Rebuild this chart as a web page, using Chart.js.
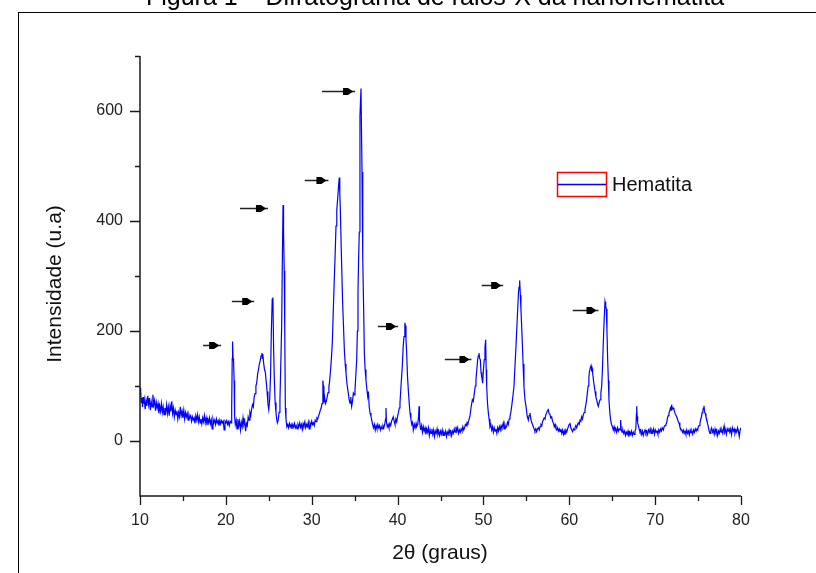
<!DOCTYPE html>
<html>
<head>
<meta charset="utf-8">
<title>Difratograma de raios-X da nanohematita</title>
<script src="https://cdn.jsdelivr.net/npm/chart.js@4/dist/chart.umd.min.js"></script>
<style>
  html, body { margin: 0; padding: 0; background: #fff; }
  canvas { display: block; }
</style>
</head>
<body>
<canvas id="xrd" width="816" height="573"></canvas>
<script>
const trecho10a20 = [
  [10.0,97],[10.05,84],[10.1,92],[10.15,70],[10.2,78],[10.3,62],[10.35,80],[10.45,68],[10.5,75],[10.6,58],
  [10.7,74],[10.8,64],[10.9,82],[11.0,66],[11.1,78],[11.2,56],[11.3,72],[11.4,62],[11.5,84],[11.6,66],
  [11.7,74],[11.8,55],[11.9,70],[12.0,60],[12.1,68],[12.2,50],[12.3,64],[12.4,54],[12.5,68],[12.6,52],
  [12.7,62],[12.8,48],[12.9,60],[13.0,52],[13.1,66],[13.2,50],[13.3,62],[13.4,46],[13.5,64],[13.6,54],
  [13.7,72],[13.8,50],[13.9,60],[14.0,44],[14.1,56],[14.2,48],[14.3,55],[14.4,40],[14.5,52],[14.6,44],
  [14.7,62],[14.8,46],[14.9,54],[15.0,42],[15.1,56],[15.2,40],[15.3,52],[15.4,44],[15.5,50],[15.6,38],
  [15.7,48],[15.8,42],[15.9,46],[16.0,36],[16.1,44],[16.2,38],[16.3,42],[16.4,32],[16.5,46],[16.6,38],
  [16.7,48],[16.8,35],[16.9,44],[17.0,33],[17.1,40],[17.2,31],[17.3,42],[17.4,35],[17.5,46],[17.6,33],
  [17.7,42],[17.8,29],[17.9,40],[18.0,33],[18.1,42],[18.2,31],[18.3,38],[18.4,22],[18.5,40],[18.6,33],
  [18.7,38],[18.8,30],[18.9,40],[19.0,33],[19.1,37],[19.2,28],[19.3,38],[19.4,31],[19.5,37],[19.6,33],
  [19.7,36],[19.8,20],[19.9,36],[20.0,33],[20.1,37],[20.2,30],[20.3,35],[20.4,28],[20.5,36],[20.6,33]
];
const trecho20a27 = [
  [20.68,60],[20.74,150],[20.78,181],[20.84,150],[20.9,145],[20.96,110],[21.02,45],[21.1,30],[21.2,38],[21.3,22],
  [21.4,40],[21.5,28],[21.6,36],[21.7,20],[21.8,34],[21.9,26],[22.0,42],[22.1,30],[22.2,36],[22.3,18],
  [22.4,32],[22.5,28],[22.6,44],[22.7,38],[22.8,52],[22.9,46],[23.0,58],[23.1,66],[23.2,62],[23.3,80],
  [23.4,86],[23.5,100],[23.6,106],[23.7,122],[23.8,130],[23.9,140],[24.0,146],[24.1,155],[24.2,160],[24.25,150],
  [24.3,158],[24.4,142],[24.5,130],[24.6,125],[24.7,108],[24.8,90],[24.9,68],[25.0,57],[25.1,75],[25.2,117],
  [25.3,200],[25.4,258],[25.48,261],[25.56,170],[25.64,115],[25.74,70],[25.84,51],[25.92,40],[26.0,33],[26.1,38],
  [26.2,52],[26.3,75],[26.4,140],[26.5,209],[26.58,330],[26.66,429],[26.72,380],[26.8,309],[26.86,200],[26.93,60],
  [27.0,40],[27.1,26]
];
const trecho27a37 = [
  [27.2,30],[27.3,24],[27.4,32],[27.5,26],[27.6,30],[27.7,22],[27.8,30],[27.9,25],[28.0,32],[28.1,24],
  [28.2,28],[28.3,22],[28.4,30],[28.5,26],[28.6,33],[28.7,25],[28.8,30],[28.9,21],[29.0,32],[29.1,28],
  [29.2,35],[29.3,24],[29.4,30],[29.5,26],[29.6,34],[29.7,22],[29.8,33],[29.9,28],[30.0,36],[30.1,30],
  [30.2,33],[30.3,28],[30.4,38],[30.5,35],[30.6,42],[30.7,40],[30.8,46],[30.9,50],[31.0,56],[31.1,60],
  [31.2,68],[31.3,110],[31.36,100],[31.42,70],[31.5,80],[31.6,68],[31.7,72],[31.8,80],[31.9,88],[32.0,98],
  [32.1,111],[32.2,130],[32.3,152],[32.4,179],[32.5,230],[32.63,294],[32.73,340],[32.83,391],[32.92,420],[33.02,440],
  [33.12,462],[33.21,479],[33.27,450],[33.33,422],[33.45,343],[33.6,252],[33.7,210],[33.8,166],[33.9,140],[33.99,124],
  [34.1,105],[34.26,87],[34.36,75],[34.46,69],[34.55,80],[34.65,63],[34.75,72],[34.85,87],[34.95,84],[35.04,93],
  [35.14,120],[35.24,148],[35.32,200],[35.39,270],[35.46,330],[35.54,380],[35.62,592],[35.74,641],[35.8,560],[35.86,489],
  [35.92,420],[35.97,331],[36.05,240],[36.13,160],[36.22,130],[36.32,111],[36.42,95],[36.52,81],[36.6,90],[36.7,62],
  [36.79,51],[36.9,45],[36.99,38]
];
const trecho37a45 = [
  [37.1,30],[37.2,24],[37.3,30],[37.4,20],[37.5,28],[37.6,22],[37.7,30],[37.8,24],[37.9,28],[38.0,20],
  [38.1,26],[38.2,22],[38.3,28],[38.4,24],[38.5,30],[38.6,40],[38.65,60],[38.7,35],[38.8,26],[38.9,30],
  [39.0,24],[39.1,32],[39.2,28],[39.3,36],[39.4,40],[39.5,44],[39.6,36],[39.7,30],[39.8,40],[39.9,35],
  [40.0,45],[40.1,52],[40.2,60],[40.28,69],[40.4,100],[40.55,136],[40.65,170],[40.75,190],[40.85,215],[40.9,210],
  [40.98,185],[41.06,160],[41.15,120],[41.25,93],[41.35,70],[41.45,51],[41.55,40],[41.65,30],[41.75,34],[41.83,20],
  [41.95,30],[42.05,24],[42.15,32],[42.22,26],[42.35,30],[42.45,45],[42.5,63],[42.55,40],[42.65,24],[42.7,20],
  [42.8,28],[42.9,16],[43.0,26],[43.1,18],[43.2,24],[43.3,12],[43.4,22],[43.5,16],[43.6,24],[43.7,10],
  [43.8,20],[43.9,14],[44.0,22],[44.1,12],[44.2,20],[44.3,8],[44.4,18],[44.5,14],[44.6,22],[44.7,12],
  [44.8,18],[44.9,10]
];
const trecho45a58 = [
  [45.0,18],[45.1,12],[45.2,20],[45.3,10],[45.4,16],[45.5,12],[45.6,18],[45.7,8],[45.8,16],[45.9,12],
  [46.0,20],[46.1,14],[46.2,18],[46.3,10],[46.4,18],[46.5,14],[46.6,22],[46.7,16],[46.8,26],[46.9,18],
  [47.0,24],[47.1,14],[47.2,20],[47.3,16],[47.4,22],[47.5,18],[47.6,26],[47.7,20],[47.8,24],[47.9,30],
  [48.0,28],[48.1,34],[48.2,32],[48.3,38],[48.43,45],[48.55,60],[48.71,75],[48.82,72],[48.94,87],[49.05,100],
  [49.13,111],[49.23,130],[49.33,148],[49.4,155],[49.48,160],[49.56,150],[49.64,148],[49.72,125],[49.8,117],[49.91,105],
  [50.0,130],[50.1,148],[50.18,170],[50.26,184],[50.32,130],[50.38,99],[50.47,70],[50.57,51],[50.66,40],[50.76,26],
  [50.86,30],[50.96,20],[51.06,26],[51.16,16],[51.26,24],[51.36,18],[51.46,22],[51.56,14],[51.66,24],[51.76,18],
  [51.86,26],[51.96,20],[52.06,28],[52.16,24],[52.31,33],[52.4,22],[52.5,30],[52.6,24],[52.7,26],[52.8,34],
  [52.9,30],[53.0,40],[53.09,44],[53.19,52],[53.29,63],[53.42,80],[53.56,99],[53.67,135],[53.79,172],[53.89,205],
  [53.99,239],[54.08,270],[54.15,280],[54.22,292],[54.3,265],[54.37,239],[54.45,210],[54.53,178],[54.62,140],[54.72,99],
  [54.84,75],[54.96,63],[55.1,45],[55.23,38],[55.32,46],[55.42,51],[55.52,40],[55.62,34],[55.72,30],[55.81,26],
  [55.9,22],[56.0,18],[56.1,22],[56.2,17],[56.3,22],[56.4,24],[56.5,20],[56.59,26],[56.7,30],[56.8,28],
  [56.9,36],[56.97,38],[57.07,42],[57.17,40],[57.27,48],[57.36,51],[57.45,55],[57.55,57],[57.65,50],[57.75,48],
  [57.85,42],[57.95,44],[58.05,36],[58.14,33]
];
const trecho58a66 = [
  [58.25,26],[58.35,30],[58.45,22],[58.53,20],[58.63,24],[58.73,18],[58.83,22],[58.92,17],[59.02,22],[59.12,14],
  [59.22,20],[59.32,12],[59.42,18],[59.5,11],[59.6,20],[59.7,16],[59.8,22],[59.89,26],[59.98,30],[60.08,33],
  [60.18,24],[60.28,20],[60.39,17],[60.48,22],[60.57,20],[60.66,24],[60.76,28],[60.86,24],[60.96,30],[61.05,33],
  [61.15,30],[61.25,38],[61.35,36],[61.44,44],[61.54,40],[61.64,48],[61.74,52],[61.83,57],[61.93,66],[62.02,75],
  [62.1,87],[62.2,100],[62.28,115],[62.33,124],[62.43,132],[62.53,137],[62.6,130],[62.66,132],[62.72,124],[62.82,110],
  [62.92,99],[63.0,90],[63.1,80],[63.19,75],[63.28,68],[63.38,63],[63.48,70],[63.58,75],[63.68,88],[63.77,99],
  [63.86,130],[63.96,178],[64.06,220],[64.16,253],[64.24,245],[64.31,240],[64.39,200],[64.47,148],[64.55,110],[64.62,75],
  [64.72,52],[64.82,38],[64.92,30],[65.02,26],[65.12,20],[65.22,26],[65.32,18],[65.42,22],[65.52,16],[65.62,24],
  [65.72,18],[65.82,22],[65.92,20],[65.98,38],[66.04,22],[66.14,16]
];
const trecho66a80 = [
  [66.24,20],[66.34,14],[66.44,18],[66.54,10],[66.64,16],[66.74,12],[66.84,18],[66.94,8],[67.04,16],[67.14,12],
  [67.24,18],[67.34,10],[67.45,16],[67.55,12],[67.65,18],[67.75,22],[67.82,50],[67.85,63],[67.9,45],[67.96,33],
  [68.05,28],[68.14,22],[68.23,17],[68.33,20],[68.43,12],[68.53,18],[68.62,10],[68.72,16],[68.82,20],[68.92,14],
  [69.02,18],[69.12,12],[69.22,20],[69.32,16],[69.42,22],[69.52,14],[69.62,20],[69.72,16],[69.82,22],[69.92,12],
  [70.02,20],[70.12,16],[70.22,18],[70.32,12],[70.42,20],[70.52,16],[70.62,22],[70.72,18],[70.82,24],[70.95,20],
  [71.05,26],[71.15,28],[71.25,30],[71.34,33],[71.44,42],[71.52,46],[71.61,51],[71.7,55],[71.78,60],[71.86,56],
  [71.92,66],[72.0,58],[72.1,60],[72.19,57],[72.28,52],[72.38,48],[72.5,44],[72.6,40],[72.7,35],[72.78,33],
  [72.88,26],[72.98,22],[73.09,20],[73.19,16],[73.28,20],[73.38,14],[73.48,18],[73.58,12],[73.68,20],[73.78,14],
  [73.88,18],[73.98,11],[74.08,20],[74.18,15],[74.28,18],[74.38,12],[74.48,20],[74.58,16],[74.68,22],[74.78,18],
  [74.88,22],[74.96,20],[75.03,26],[75.12,28],[75.22,33],[75.32,40],[75.4,44],[75.46,51],[75.55,55],[75.62,60],
  [75.69,64],[75.76,52],[75.84,50],[75.92,44],[76.0,40],[76.1,32],[76.19,26],[76.29,18],[76.39,14],[76.48,20],
  [76.58,24],[76.68,16],[76.78,20],[76.88,12],[76.98,22],[77.08,16],[77.18,20],[77.28,10],[77.38,18],[77.48,14],
  [77.58,22],[77.68,16],[77.78,20],[77.88,14],[77.96,22],[78.03,27],[78.1,16],[78.2,20],[78.3,12],[78.4,22],
  [78.5,18],[78.6,24],[78.7,16],[78.8,22],[78.9,12],[79.0,24],[79.1,18],[79.2,22],[79.3,14],[79.4,20],
  [79.5,16],[79.6,24],[79.7,18],[79.8,8],[79.9,20],[80.0,24]
];

// setas que marcam os picos: [2θ inicio, 2θ ponta, intensidade]
const setasPicos = [
  [17.35, 19.45, 175], [20.7, 23.3, 254], [21.65, 24.9, 424],
  [29.2, 31.95, 475], [31.2, 35.05, 636], [37.7, 40.05, 209],
  [45.5, 48.6, 150], [49.8, 52.3, 283], [60.4, 63.4, 239]
];

const yTickLabels = [0, 200, 400, 600];
const legendLabel = "Hematita";

const FONT = '"Liberation Sans", Arial, sans-serif';

const serie = []
  .concat(trecho10a20, trecho20a27, trecho27a37, trecho37a45, trecho45a58, trecho58a66, trecho66a80)
  .map(p => ({ x: p[0], y: p[1] }));

const origemPlugin = {
  id: "origemStyle",
  afterDraw(chart) {
    const ctx = chart.ctx;
    const xs = chart.scales.x;
    const ys = chart.scales.y;
    const area = chart.chartArea;
    ctx.save();

    // moldura da figura
    ctx.strokeStyle = "#000";
    ctx.lineWidth = 1;
    ctx.strokeRect(18.5, 12.5, 900, 700);

    // titulo (cortado no topo)
    ctx.fillStyle = "#000";
    ctx.font = "25px " + FONT;
    ctx.textAlign = "center";
    ctx.textBaseline = "alphabetic";
    ctx.fillText("Figura 1 \u2013 Difratograma de raios-X da nanohematita", 435, 5);

    // eixos
    ctx.strokeStyle = "#1a1a1a";
    ctx.lineWidth = 1.5;
    ctx.beginPath();
    ctx.moveTo(area.left, area.top);
    ctx.lineTo(area.left, area.bottom);
    ctx.lineTo(area.right, area.bottom);
    ctx.stroke();

    ctx.lineWidth = 1.3;
    ctx.beginPath();
    for (let v = 0; v <= 700; v += 100) {
      const py = Math.round(ys.getPixelForValue(v)) + 0.5;
      const len = v % 200 === 0 ? 10 : 5;
      ctx.moveTo(area.left, py);
      ctx.lineTo(area.left - len, py);
    }
    for (let v = 10; v <= 80; v += 5) {
      const px = Math.round(xs.getPixelForValue(v)) + 0.5;
      const len = v % 10 === 0 ? 9 : 5;
      ctx.moveTo(px, area.bottom);
      ctx.lineTo(px, area.bottom + len);
    }
    ctx.stroke();

    // titulos dos eixos
    ctx.fillStyle = "#111";
    ctx.font = "21px " + FONT;
    ctx.textAlign = "center";
    ctx.textBaseline = "middle";
    ctx.fillText("2\u03b8 (graus)", 440, 553);
    ctx.save();
    ctx.translate(55, 284);
    ctx.rotate(-Math.PI / 2);
    ctx.fillText("Intensidade (u.a)", 0, 0);
    ctx.restore();

    // legenda
    ctx.strokeStyle = "#ff0000";
    ctx.lineWidth = 1.5;
    ctx.strokeRect(557.5, 172.5, 49, 24);
    ctx.strokeStyle = "#0000ff";
    ctx.lineWidth = 1.5;
    ctx.beginPath();
    ctx.moveTo(558, 184.5);
    ctx.lineTo(606, 184.5);
    ctx.stroke();
    ctx.fillStyle = "#111";
    ctx.font = "20px " + FONT;
    ctx.textAlign = "left";
    ctx.fillText(legendLabel, 612, 185);

    // setas
    setasPicos.forEach(s => {
      const x1 = xs.getPixelForValue(s[0]);
      const x2 = xs.getPixelForValue(s[1]);
      const y = Math.round(ys.getPixelForValue(s[2])) + 0.5;
      ctx.strokeStyle = "#222";
      ctx.lineWidth = 1.5;
      ctx.beginPath();
      ctx.moveTo(x1, y);
      ctx.lineTo(x2, y);
      ctx.stroke();
      ctx.fillStyle = "#000";
      ctx.beginPath();
      ctx.moveTo(x2 - 12, y - 3.5);
      ctx.lineTo(x2 - 7, y - 3.5);
      ctx.lineTo(x2 - 2, y);
      ctx.lineTo(x2 - 7, y + 3.5);
      ctx.lineTo(x2 - 12, y + 3.5);
      ctx.closePath();
      ctx.fill();
    });

    ctx.restore();
  }
};

new Chart(document.getElementById("xrd").getContext("2d"), {
  type: "line",
  data: {
    datasets: [{
      label: legendLabel,
      data: serie,
      borderColor: "#0000ff",
      borderWidth: 1.2,
      pointRadius: 0,
      tension: 0,
      fill: false
    }]
  },
  options: {
    responsive: false,
    animation: false,
    devicePixelRatio: 1,
    layout: { padding: { top: 56, right: 75, left: 0, bottom: 0 } },
    plugins: { legend: { display: false }, tooltip: { enabled: false } },
    scales: {
      x: {
        type: "linear",
        min: 10,
        max: 80,
        grid: { display: false, drawTicks: false },
        border: { display: false },
        ticks: { stepSize: 10, padding: 15, color: "#222", font: { family: FONT, size: 16 } },
        afterFit(scale) { scale.height = 77; }
      },
      y: {
        min: -100,
        max: 700,
        grid: { display: false, drawTicks: false },
        border: { display: false },
        ticks: {
          stepSize: 100,
          padding: 17,
          color: "#222",
          font: { family: FONT, size: 16 },
          callback: v => (yTickLabels.includes(v) ? v : "")
        },
        afterFit(scale) { scale.width = 140; }
      }
    }
  },
  plugins: [origemPlugin]
});
</script>
</body>
</html>
